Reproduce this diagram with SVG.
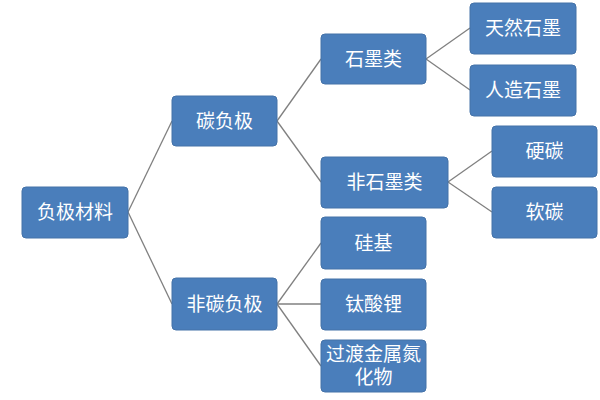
<svg xmlns="http://www.w3.org/2000/svg" width="600" height="400" viewBox="0 0 600 400">
<style>
.n rect{fill:#4a7ebb;stroke:#4472a8;stroke-width:1}
.n text{fill:#fff;font-family:"Liberation Sans","Noto Sans CJK SC",sans-serif;font-size:19px;text-anchor:middle;dominant-baseline:central}
.c line{stroke:#808080;stroke-width:1.3}
</style>
<rect width="600" height="400" fill="#fff"/>
<g class="c">
<line x1="128" y1="212" x2="172" y2="121"/>
<line x1="128" y1="212" x2="172" y2="304"/>
<line x1="277" y1="121" x2="321" y2="59"/>
<line x1="277" y1="121" x2="321" y2="182"/>
<line x1="426" y1="59" x2="470" y2="28"/>
<line x1="426" y1="59" x2="470" y2="90"/>
<line x1="448" y1="182" x2="492" y2="151"/>
<line x1="448" y1="182" x2="492" y2="212"/>
<line x1="277" y1="304" x2="321" y2="243"/>
<line x1="277" y1="304" x2="321" y2="304"/>
<line x1="277" y1="304" x2="321" y2="366"/>
</g>
<g id="root" class="n"><rect x="22" y="187" width="106" height="51" rx="4"/><text x="75" y="212">负极材料</text></g>
<g id="tan" class="n"><rect x="172" y="96" width="105" height="50" rx="4"/><text x="224.5" y="121">碳负极</text></g>
<g id="feitan" class="n"><rect x="172" y="278" width="105" height="52" rx="4"/><text x="224.5" y="304">非碳负极</text></g>
<g id="shimo" class="n"><rect x="321" y="34" width="105" height="50" rx="4"/><text x="373.5" y="59">石墨类</text></g>
<g id="feishimo" class="n"><rect x="321" y="157" width="127" height="51" rx="4"/><text x="384.5" y="182">非石墨类</text></g>
<g id="tianran" class="n"><rect x="470" y="3" width="106" height="51" rx="4"/><text x="523" y="28">天然石墨</text></g>
<g id="renzao" class="n"><rect x="470" y="65" width="106" height="51" rx="4"/><text x="523" y="90">人造石墨</text></g>
<g id="ying" class="n"><rect x="492" y="126" width="105" height="51" rx="4"/><text x="544.5" y="151">硬碳</text></g>
<g id="ruan" class="n"><rect x="492" y="187" width="105" height="51" rx="4"/><text x="544.5" y="212">软碳</text></g>
<g id="gui" class="n"><rect x="321" y="217" width="105" height="52" rx="4"/><text x="373.5" y="243">硅基</text></g>
<g id="tai" class="n"><rect x="321" y="279" width="105" height="51" rx="4"/><text x="373.5" y="304">钛酸锂</text></g>
<g id="guodu" class="n"><rect x="321" y="340" width="105" height="52" rx="4"/><text x="373.5" y="354">过渡金属氮</text><text x="373.5" y="377">化物</text></g>
</svg>
